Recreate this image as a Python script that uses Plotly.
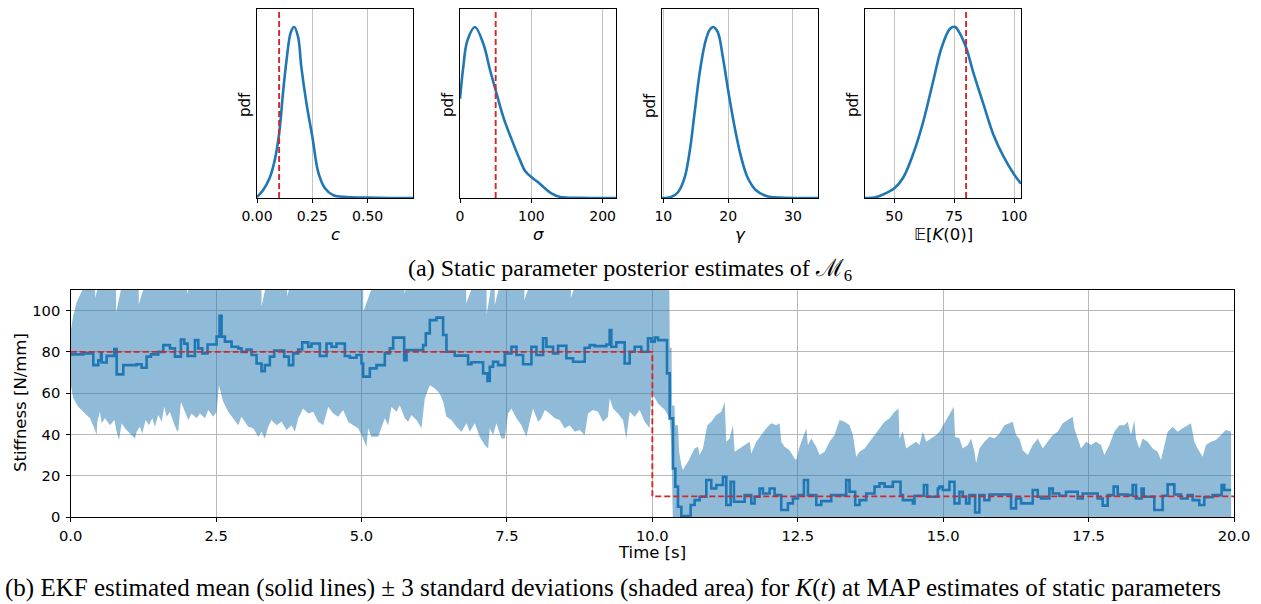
import plotly.graph_objects as go

W, H = 1261, 604

# ---------------- top row: posterior pdfs (relative density, peak = 1) ----------------
c_grid = [0.0, 0.027, 0.058, 0.08, 0.1, 0.118, 0.133, 0.153, 0.168, 0.186, 0.2, 0.224, 0.25,
          0.277, 0.308, 0.345, 0.406, 0.5, 0.6, 0.705]
c_pdf = [0.006, 0.045, 0.12, 0.22, 0.376, 0.62, 0.80, 0.97, 1.0, 0.94, 0.77, 0.55, 0.36,
         0.15, 0.055, 0.016, 0.006, 0.002, 0.0, 0.0]

sigma_grid = [0, 4.7, 10.3, 21, 32.8, 42, 50, 61, 72.6, 84.3, 91, 100.7, 110, 119.4, 128.8,
              140.5, 168.6, 218.7]
sigma_pdf = [0.58, 0.77, 0.92, 1.0, 0.9, 0.75, 0.63, 0.47, 0.34, 0.22, 0.16, 0.12, 0.09,
             0.055, 0.025, 0.006, 0.001, 0.0]

gamma_grid = [9.8, 11.2, 12.3, 13.3, 14.1, 14.8, 15.6, 16.4, 17.1, 17.7, 18.4, 19.2, 20.0,
              21.0, 22.0, 23.0, 24.3, 25.9, 28.0, 33.86]
gamma_pdf = [0.0, 0.006, 0.035, 0.12, 0.28, 0.49, 0.73, 0.9, 0.98, 1.0, 0.97, 0.82, 0.63,
             0.415, 0.24, 0.12, 0.045, 0.012, 0.002, 0.0]

k0_grid = [37.85, 42.6, 46.8, 50, 53.8, 58, 62.2, 66.4, 69.8, 73.3, 75.4, 77.5, 80, 83.1,
           87.2, 91.4, 95.7, 99.9, 102.9]
k0_pdf = [0.0, 0.006, 0.03, 0.055, 0.12, 0.26, 0.45, 0.69, 0.88, 0.99, 1.0, 0.96, 0.88, 0.73,
          0.55, 0.37, 0.24, 0.14, 0.084]

true_static = [0.1, 50, None, 80]
top_ranges = [[0, 0.705], [0, 218.7], [9.8, 33.86], [37.85, 102.9]]
top_ticks = [[0, 0.25, 0.5], [0, 100, 200], [10, 20, 30], [50, 75, 100]]
top_ticktext = [["0.00", "0.25", "0.50"], ["0", "100", "200"], ["10", "20", "30"],
                ["50", "75", "100"]]
top_xlabels = ["<i>c</i>", "<i>σ</i>", "<i>γ</i>", "𝔼[<i>K</i>(0)]"]

# ---------------- bottom: EKF estimate of K(t) ----------------
mean_t = [0.0, 0.217, 0.389, 0.475, 0.52, 0.532, 0.618, 0.75, 0.79, 0.904, 1.133, 1.219, 1.305,
          1.38, 1.506, 1.592, 1.706, 1.792, 1.895, 1.952, 2.01, 2.136, 2.193, 2.262, 2.353,
          2.508, 2.56, 2.594, 2.651, 2.766, 2.88, 2.937, 3.023, 3.109, 3.195, 3.281, 3.338,
          3.424, 3.499, 3.67, 3.751, 3.825, 3.911, 3.98, 4.083, 4.14, 4.283, 4.398, 4.484,
          4.57, 4.713, 4.799, 4.913, 4.999, 5.028, 5.143, 5.257, 5.4, 5.486, 5.544, 5.733,
          5.773, 6.059, 6.105, 6.174, 6.288, 6.403, 6.46, 6.603, 6.832, 6.89, 7.09, 7.165,
          7.205, 7.262, 7.348, 7.462, 7.577, 7.663, 7.777, 7.921, 8.007, 8.121, 8.178, 8.293,
          8.379, 8.522, 8.637, 8.837, 8.923, 9.009, 9.209, 9.266, 9.295, 9.381, 9.524, 9.61,
          9.696, 9.81, 9.925, 9.983, 10.04, 10.097, 10.252, 10.298, 10.355, 10.395, 10.441,
          10.498, 10.658, 10.727, 10.813, 10.928, 11.013, 11.099, 11.214, 11.271, 11.346,
          11.403, 11.586, 11.701, 11.758, 11.844, 11.901, 12.016, 12.102, 12.216, 12.331,
          12.417, 12.503, 12.606, 12.675, 12.818, 12.904, 13.075, 13.333, 13.39, 13.488,
          13.562, 13.677, 13.82, 13.906, 13.992, 14.135, 14.267, 14.307, 14.479, 14.507,
          14.668, 14.725, 14.908, 14.936, 14.993, 15.108, 15.194, 15.28, 15.337, 15.394,
          15.451, 15.549, 15.623, 15.709, 15.795, 16.167, 16.253, 16.339, 16.54, 16.626,
          16.683, 16.826, 16.883, 16.998, 17.112, 17.313, 17.399, 17.656, 17.742, 17.828,
          17.931, 18.0, 18.172, 18.258, 18.315, 18.412, 18.447, 18.63, 18.773, 18.859,
          18.974, 19.088, 19.203, 19.289, 19.403, 19.489, 19.632, 19.787, 19.833, 19.95]
mean_k = [78.8, 79.3, 73.6, 75.9, 79.5, 74.9, 78.1, 81.4, 69.1, 73.6, 74.0, 72.3, 77.7,
          78.8, 80.0, 83.3, 81.7, 77.7, 86.0, 84.0, 78.0, 85.7, 81.7, 79.3, 83.6,
          87.4, 97.5, 87.4, 85.0, 82.5, 81.7, 80.0, 81.2, 78.5, 74.4, 70.7, 73.6,
          77.7, 80.6, 77.7, 73.6, 79.3, 81.2, 84.6, 82.5, 84.1, 78.0, 84.1, 82.5,
          84.1, 78.0, 77.2, 78.5, 74.4, 68.0, 72.0, 73.6, 79.3, 81.7, 86.9, 76.0,
          80.9, 83.3, 89.0, 95.4, 96.6, 88.2, 80.1, 78.2, 74.0, 75.0, 69.6, 65.9,
          72.8, 75.2, 73.6, 79.3, 82.5, 78.5, 74.0, 82.5, 78.5, 86.6, 82.5, 79.3,
          83.0, 76.9, 75.2, 82.0, 83.3, 82.8, 83.6, 90.6, 82.5, 84.6, 74.4, 80.1,
          82.5, 80.1, 86.6, 85.0, 86.9, 85.7, 69.6, 47.8, 23.5, 14.7, 5.0,
          0.4, 5.8, 8.2, 9.8, 17.9, 13.8, 15.5, 19.5, 5.8, 17.1,
          7.4, 10.6, 6.6, 9.8, 13.8, 11.4, 13.8, 10.6, 3.4, 6.6,
          9.0, 10.6, 17.9, 10.6, 5.8, 7.7, 10.6, 17.9, 12.2, 5.8,
          8.2, 11.4, 14.7, 16.3, 14.7, 17.1, 10.6, 8.2, 6.6, 10.3,
          15.5, 9.8, 13.8, 14.7, 13.1, 17.1, 6.6, 12.2, 9.8, 6.6,
          10.6, 2.2, 10.6, 8.2, 10.9, 4.2, 9.0, 6.6, 13.1, 9.8,
          9.0, 13.8, 11.4, 10.3, 12.2, 9.0, 11.4, 9.0, 5.5, 10.6,
          14.7, 10.9, 10.6, 15.5, 9.0, 13.8, 9.8, 3.4, 10.3, 15.8,
          10.9, 9.0, 10.6, 8.2, 5.8, 9.6, 10.6, 15.5, 13.1, 13.1]

# upper edge of the +/-3 sd band (values above 110 lie off the chart)
upper_t = [0.0, 0.04, 0.1, 0.2, 0.25, 0.42, 0.42, 0.5, 0.78, 0.78, 0.9, 1.17, 1.17, 1.3,
           2.0, 2.0, 2.06, 3.28, 3.28, 3.38, 3.72, 3.72, 3.8, 5.03, 5.03, 5.23, 5.74, 5.74,
           5.8, 6.8, 6.8, 6.95, 7.15, 7.15, 7.25, 7.29, 7.29, 7.4, 7.8, 7.8, 7.92, 8.6, 8.6,
           8.7, 10.29, 10.30, 10.33, 10.34, 10.38, 10.39, 10.44, 10.46, 10.5, 10.527,
           10.555, 10.613, 10.67, 10.727, 10.784, 10.813, 10.87, 10.945, 11.013, 11.099,
           11.185, 11.243, 11.271, 11.328, 11.386, 11.414, 11.5, 11.586, 11.672, 11.701,
           11.787, 11.873, 11.959, 12.044, 12.13, 12.188, 12.216, 12.274, 12.359, 12.445,
           12.474, 12.531, 12.617, 12.646, 12.675, 12.732, 12.818, 12.875, 12.961, 13.047,
           13.132, 13.218, 13.304, 13.39, 13.448, 13.505, 13.562, 13.648, 13.734, 13.82,
           13.906, 13.992, 14.078, 14.164, 14.232, 14.249, 14.307, 14.364, 14.45, 14.536,
           14.593, 14.65, 14.708, 14.793, 14.879, 14.936, 15.022, 15.108, 15.182, 15.205,
           15.28, 15.337, 15.423, 15.48, 15.537, 15.566, 15.623, 15.709, 15.795, 15.881,
           15.967, 16.053, 16.139, 16.196, 16.253, 16.31, 16.368, 16.454, 16.54, 16.626,
           16.711, 16.797, 16.883, 16.969, 17.055, 17.141, 17.227, 17.255, 17.313, 17.37,
           17.456, 17.542, 17.628, 17.714, 17.771, 17.857, 17.943, 18.029, 18.115, 18.172,
           18.229, 18.286, 18.315, 18.372, 18.43, 18.516, 18.601, 18.687, 18.745, 18.802,
           18.859, 18.945, 19.031, 19.117, 19.203, 19.26, 19.317, 19.375, 19.461, 19.518,
           19.604, 19.69, 19.776, 19.862, 19.95]
upper_k = [90, 97, 104, 110, 115, 115, 106, 115, 115, 99, 115, 115, 103, 115,
           115, 108, 115, 115, 102, 115, 115, 107, 115, 115, 99.5, 115, 115, 108,
           115, 115, 103.5, 115, 115, 98, 115, 115, 102.7, 115, 115, 105, 115, 115, 106,
           115, 115, 82, 82, 54, 54, 44.5, 44.5, 31.6, 25, 22.7,
           24.4, 26.8, 30, 33.2, 34, 30, 33.2, 44.5, 46.2, 49.4,
           51, 55.9, 36.5, 38.1, 44.5, 31.6, 33.2, 34.9, 36.5, 30.8,
           36.5, 39.7, 43, 45.4, 44.5, 45.4, 36.5, 34, 32.4, 28.4,
           27.6, 34, 41.3, 43, 34.9, 38.1, 34, 30, 31.6, 36.5,
           39.7, 47, 46.2, 44.5, 39.7, 29.2, 31.6, 33.2, 36.5, 39.7,
           43, 46.2, 47.8, 51, 52.6, 38.1, 41.3, 33.2, 34.9, 36.5,
           34.9, 41.3, 36.5, 38.1, 39.7, 41.3, 45.4, 49.4, 53.4, 38.9,
           38.1, 33.2, 34.9, 38.1, 31.6, 26, 33.2, 36.5, 38.9, 38.1,
           40.5, 44.5, 45.4, 46.2, 39.7, 38.1, 32.4, 30, 34.9, 38.1,
           33.2, 36.5, 39.7, 41.3, 45.4, 47, 48.6, 43, 38.1, 33.2,
           36.5, 34.9, 36.5, 34.9, 30, 34.9, 41.3, 44.5, 44.5, 46.2,
           39.7, 47, 38.1, 33.2, 38.1, 36.5, 33.2, 31.6, 27.6, 34.9,
           41.3, 43.7, 41.3, 43, 44.5, 45.4, 36.5, 33.2, 29.2, 34.9,
           36.5, 37.3, 39.7, 42.1, 41.3]

# lower edge of the band (after ~10.36 s it lies below zero)
lower_t = [0.0, 0.045, 0.131, 0.246, 0.332, 0.406, 0.446, 0.458, 0.503, 0.532, 0.589, 0.675,
           0.75, 0.79, 0.83, 0.876, 0.933, 1.019, 1.105, 1.133, 1.191, 1.231, 1.288, 1.345,
           1.403, 1.448, 1.506, 1.563, 1.609, 1.649, 1.706, 1.763, 1.821, 1.849, 1.895,
           1.964, 2.021, 2.078, 2.164, 2.222, 2.307, 2.365, 2.451, 2.508, 2.548, 2.622,
           2.708, 2.794, 2.88, 2.937, 2.995, 3.052, 3.138, 3.224, 3.281, 3.338, 3.396,
           3.453, 3.539, 3.625, 3.711, 3.797, 3.854, 3.911, 3.997, 4.083, 4.169, 4.255,
           4.341, 4.427, 4.513, 4.598, 4.684, 4.77, 4.856, 4.942, 5.028, 5.085, 5.114,
           5.171, 5.286, 5.4, 5.458, 5.515, 5.601, 5.658, 5.744, 5.801, 5.859, 5.945,
           6.031, 6.088, 6.174, 6.26, 6.345, 6.403, 6.46, 6.546, 6.632, 6.718, 6.804,
           6.861, 6.947, 7.033, 7.119, 7.176, 7.205, 7.262, 7.319, 7.405, 7.462, 7.52,
           7.577, 7.663, 7.749, 7.835, 7.892, 7.949, 8.035, 8.092, 8.15, 8.235, 8.321,
           8.407, 8.493, 8.579, 8.665, 8.751, 8.837, 8.894, 8.98, 9.066, 9.152, 9.238,
           9.266, 9.324, 9.409, 9.495, 9.553, 9.61, 9.696, 9.782, 9.868, 9.954, 9.971,
           9.983, 10.097, 10.212, 10.298, 10.326, 10.355, 19.95]
lower_k = [64, 57.5, 53.4, 50.2, 47.8, 43, 39.7, 46.2, 51, 45.4, 47.8, 44.5,
           47, 41.3, 37.3, 45.4, 43, 40.5, 38.1, 41.3, 43.7, 40.5, 47, 44.5,
           47.8, 43.7, 49.4, 46.2, 53.4, 48.6, 51, 46.2, 42.1, 41.3, 55.9,
           51, 47, 50.2, 47.8, 50.2, 47.8, 51.8, 48.6, 51, 63.9, 55.9,
           51, 47.8, 44.5, 48.6, 46.2, 43.7, 43, 38.9, 41.3, 38.1, 43.7,
           47, 44.5, 46.2, 42.1, 44.5, 41.3, 47.8, 52.6, 50.2, 51, 46.2,
           44.5, 53.4, 50.2, 48.6, 51.8, 46.2, 44.5, 43, 38.1, 34, 43,
           38.9, 38.9, 47.8, 44.5, 53.4, 51, 54.2, 47.8, 46.2, 49.4, 47,
           43, 57.5, 63.9, 62.3, 59.9, 55.9, 48.6, 47, 43.7, 41.3, 45.4,
           41.3, 45.4, 38.9, 34.9, 33.2, 43, 39.7, 45.4, 38.1, 38.1, 50.2,
           52.6, 47.8, 44.5, 38.9, 46.2, 52.6, 46.2, 47.8, 51.8, 50.2, 47.8,
           47, 43, 44.5, 41.3, 42.1, 39.7, 50.2, 51.8, 51, 46.2, 48.6,
           57.5, 52.6, 50.2, 47, 38.1, 51, 48.6, 51.8, 46.2, 43, 53.4,
           60.7, 55, 52, 48, 35, -5, -5]

true_t = [0, 10, 20]
true_k = [80, 10, 10]

time_ticks = [0, 2.5, 5, 7.5, 10, 12.5, 15, 17.5, 20]
time_ticktext = ["0.0", "2.5", "5.0", "7.5", "10.0", "12.5", "15.0", "17.5", "20.0"]
stiff_ticks = [0, 20, 40, 60, 80, 100]

# ---------------- styling ----------------
BLUE = "#1f77b4"
RED = "#d62728"
FILL = "rgba(31,119,180,0.5)"
SANS = "DejaVu Sans"
SERIF = "Liberation Serif"


def px(x):
    return x / W


def py(y):
    return 1 - y / H


top_x_px = [(257, 413), (460, 616), (662, 818), (865, 1021)]
top_y_dom = [py(198), py(9)]
bot_x_dom = [px(70.7), px(1234)]
bot_y_dom = [py(517), py(290)]

fig = go.Figure()
layout = dict(width=W, height=H, margin=dict(l=0, r=0, t=0, b=0, pad=0), autosize=False,
              paper_bgcolor="white", plot_bgcolor="white", showlegend=False,
              font=dict(family=SANS, color="black"))

grids = [c_grid, sigma_grid, gamma_grid, k0_grid]
pdfs = [c_pdf, sigma_pdf, gamma_pdf, k0_pdf]
annotations = []
shapes = []
for i in range(4):
    n = i + 1
    xa = "x" if n == 1 else f"x{n}"
    ya = "y" if n == 1 else f"y{n}"
    fig.add_trace(go.Scatter(x=grids[i], y=pdfs[i], mode="lines", xaxis=xa, yaxis=ya,
                             line=dict(color=BLUE, width=2.6, shape="spline", smoothing=1.0),
                             hoverinfo="skip"))
    x0, x1 = top_x_px[i]
    layout["xaxis" if n == 1 else f"xaxis{n}"] = dict(
        domain=[px(x0), px(x1)], anchor=ya, range=top_ranges[i], automargin=False,
        tickvals=top_ticks[i], ticktext=top_ticktext[i], ticks="outside", ticklen=3.5,
        tickwidth=1, tickcolor="black", showline=True, linecolor="black", linewidth=1,
        mirror=True, showgrid=True, gridcolor="#c4c4c4", gridwidth=1, zeroline=False,
        tickfont=dict(family=SANS, size=14, color="black"), ticklabelstandoff=2)
    layout["yaxis" if n == 1 else f"yaxis{n}"] = dict(
        domain=top_y_dom, anchor=xa, range=[0, 1.105], showticklabels=False, ticks="",
        showgrid=False, showline=True, linecolor="black", linewidth=1, mirror=True,
        zeroline=False, automargin=False)
    if true_static[i] is not None:
        shapes.append(dict(type="line", xref=xa, yref=f"{ya} domain", x0=true_static[i],
                           x1=true_static[i], y0=0, y1=1,
                           line=dict(color=RED, width=1.9, dash="6px,3px")))
    annotations.append(dict(text="pdf", x=px(x0 - 12), y=py(105), xref="paper", yref="paper",
                            showarrow=False, textangle=-90, xanchor="center", yanchor="middle",
                            font=dict(family=SANS, size=15, color="black")))
    annotations.append(dict(text=top_xlabels[i], x=px((x0 + x1) / 2), y=py(234), xref="paper",
                            yref="paper", showarrow=False, xanchor="center", yanchor="middle",
                            font=dict(family=SANS, size=16.5, color="black")))

# bottom panel
band_x = upper_t + lower_t[::-1]
band_y = upper_k + lower_k[::-1]
fig.add_trace(go.Scatter(x=band_x, y=band_y, mode="lines", fill="toself", fillcolor=FILL,
                         line=dict(width=0), xaxis="x5", yaxis="y5", hoverinfo="skip"))
fig.add_trace(go.Scatter(x=mean_t, y=mean_k, mode="lines", xaxis="x5", yaxis="y5",
                         line=dict(color=BLUE, width=2.6, shape="hv"), hoverinfo="skip"))
fig.add_trace(go.Scatter(x=true_t, y=true_k, mode="lines", xaxis="x5", yaxis="y5",
                         line=dict(color=RED, width=1.9, dash="6px,3px", shape="hv"),
                         hoverinfo="skip"))
layout["xaxis5"] = dict(domain=bot_x_dom, anchor="y5", range=[0, 20], tickvals=time_ticks,
                        ticktext=time_ticktext, ticks="outside", ticklen=3.5, tickwidth=1,
                        tickcolor="black", showline=True, linecolor="black", linewidth=1,
                        mirror=True, showgrid=True, gridcolor="#b8b8b8", gridwidth=1,
                        zeroline=False, tickfont=dict(family=SANS, size=14.7, color="black"),
                        ticklabelstandoff=2, automargin=False)
layout["yaxis5"] = dict(domain=bot_y_dom, anchor="x5", range=[0, 110], tickvals=stiff_ticks,
                        ticks="outside", ticklen=3.5, tickwidth=1, tickcolor="black",
                        showline=True, linecolor="black", linewidth=1, mirror=True,
                        showgrid=True, gridcolor="#b8b8b8", gridwidth=1, zeroline=False,
                        tickfont=dict(family=SANS, size=14.7, color="black"),
                        ticklabelstandoff=3, automargin=False)

annotations.append(dict(text="Time [s]", x=px(652), y=py(552), xref="paper", yref="paper",
                        showarrow=False, xanchor="center", yanchor="middle",
                        font=dict(family=SANS, size=16.5, color="black")))
annotations.append(dict(text="Stiffness [N/mm]", x=px(20), y=py(403), xref="paper",
                        yref="paper", showarrow=False, textangle=-90, xanchor="center",
                        yanchor="middle", font=dict(family=SANS, size=16.5, color="black")))
annotations.append(dict(text="(a) Static parameter posterior estimates of ℳ<sub>6</sub>",
                        x=px(630), y=py(270), xref="paper", yref="paper", showarrow=False,
                        xanchor="center", yanchor="middle",
                        font=dict(family=SERIF, size=24, color="black")))
annotations.append(dict(text="(b) EKF estimated mean (solid lines) ± 3 standard deviations "
                             "(shaded area) for <i>K</i>(<i>t</i>) at MAP estimates of static "
                             "parameters",
                        x=px(612.5), y=py(588), xref="paper", yref="paper", showarrow=False,
                        xanchor="center", yanchor="middle",
                        font=dict(family=SERIF, size=25, color="black")))

layout["annotations"] = annotations
layout["shapes"] = shapes
fig.update_layout(**layout)
fig.write_html("out.html", config={"displayModeBar": False},
               post_script="document.body.style.margin='0';document.body.style.padding='0';"
                           "document.documentElement.style.overflow='hidden';")
